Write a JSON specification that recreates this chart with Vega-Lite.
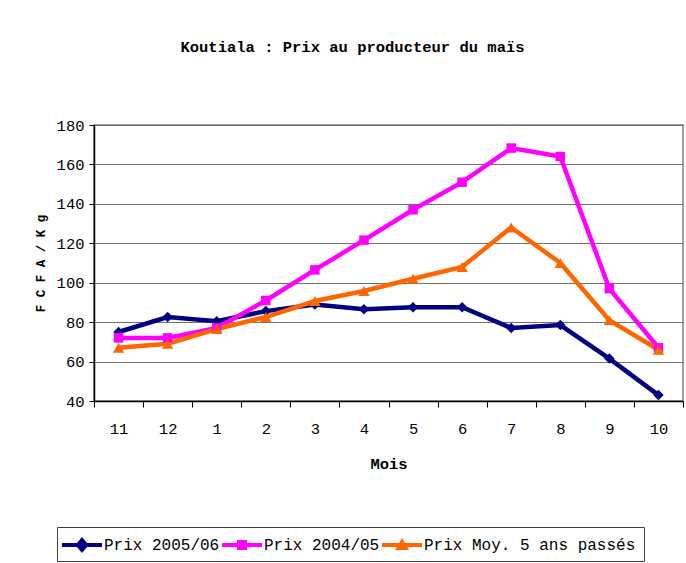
{
  "$schema": "https://vega.github.io/schema/vega-lite/v6.json",
  "width": 589,
  "height": 276,
  "autosize": {"type": "none"},
  "padding": {"left": 94, "top": 125, "right": 3, "bottom": 162},
  "background": "white",
  "title": {
    "text": "Koutiala : Prix au producteur du maïs",
    "font": "Liberation Mono",
    "fontSize": 15.5,
    "fontWeight": "bold",
    "color": "black",
    "anchor": "middle",
    "dx": -36,
    "offset": 63
  },
  "config": {
    "view": {"stroke": "#808080", "strokeWidth": 1.5},
    "axis": {
      "labelFont": "Liberation Mono",
      "labelFontSize": 15.5,
      "labelColor": "black",
      "titleFont": "Liberation Mono",
      "titleFontSize": 15.5,
      "titleFontWeight": "bold",
      "titleColor": "black",
      "domainColor": "black",
      "domainWidth": 1.5,
      "tickColor": "black",
      "tickWidth": 1
    }
  },
  "data": {
    "values": [
      {"mois": "11", "serie": "Prix 2005/06", "prix": 75},
      {"mois": "12", "serie": "Prix 2005/06", "prix": 82.6},
      {"mois": "1", "serie": "Prix 2005/06", "prix": 80.5},
      {"mois": "2", "serie": "Prix 2005/06", "prix": 85.6},
      {"mois": "3", "serie": "Prix 2005/06", "prix": 89},
      {"mois": "4", "serie": "Prix 2005/06", "prix": 86.6},
      {"mois": "5", "serie": "Prix 2005/06", "prix": 87.6},
      {"mois": "6", "serie": "Prix 2005/06", "prix": 87.6},
      {"mois": "7", "serie": "Prix 2005/06", "prix": 77},
      {"mois": "8", "serie": "Prix 2005/06", "prix": 78.5},
      {"mois": "9", "serie": "Prix 2005/06", "prix": 61.5},
      {"mois": "10", "serie": "Prix 2005/06", "prix": 43},
      {"mois": "11", "serie": "Prix 2004/05", "prix": 72},
      {"mois": "12", "serie": "Prix 2004/05", "prix": 72},
      {"mois": "1", "serie": "Prix 2004/05", "prix": 77},
      {"mois": "2", "serie": "Prix 2004/05", "prix": 91},
      {"mois": "3", "serie": "Prix 2004/05", "prix": 106.5},
      {"mois": "4", "serie": "Prix 2004/05", "prix": 121.6},
      {"mois": "5", "serie": "Prix 2004/05", "prix": 137},
      {"mois": "6", "serie": "Prix 2004/05", "prix": 151},
      {"mois": "7", "serie": "Prix 2004/05", "prix": 168.3},
      {"mois": "8", "serie": "Prix 2004/05", "prix": 164},
      {"mois": "9", "serie": "Prix 2004/05", "prix": 97},
      {"mois": "10", "serie": "Prix 2004/05", "prix": 67},
      {"mois": "11", "serie": "Prix Moy. 5 ans passés", "prix": 67},
      {"mois": "12", "serie": "Prix Moy. 5 ans passés", "prix": 69},
      {"mois": "1", "serie": "Prix Moy. 5 ans passés", "prix": 76.5},
      {"mois": "2", "serie": "Prix Moy. 5 ans passés", "prix": 82.6},
      {"mois": "3", "serie": "Prix Moy. 5 ans passés", "prix": 90.7},
      {"mois": "4", "serie": "Prix Moy. 5 ans passés", "prix": 95.8},
      {"mois": "5", "serie": "Prix Moy. 5 ans passés", "prix": 102},
      {"mois": "6", "serie": "Prix Moy. 5 ans passés", "prix": 108},
      {"mois": "7", "serie": "Prix Moy. 5 ans passés", "prix": 128},
      {"mois": "8", "serie": "Prix Moy. 5 ans passés", "prix": 110},
      {"mois": "9", "serie": "Prix Moy. 5 ans passés", "prix": 81},
      {"mois": "10", "serie": "Prix Moy. 5 ans passés", "prix": 66}
    ]
  },
  "encoding": {
    "x": {
      "field": "mois",
      "type": "ordinal",
      "scale": {
        "type": "band",
        "domain": ["11", "12", "1", "2", "3", "4", "5", "6", "7", "8", "9", "10"],
        "paddingInner": 0,
        "paddingOuter": 0
      },
      "axis": {
        "title": "Mois",
        "labelAngle": 0,
        "tickBand": "extent",
        "tickSize": 6,
        "labelPadding": 14,
        "titlePadding": 20,
        "grid": false
      }
    },
    "y": {
      "field": "prix",
      "type": "quantitative",
      "scale": {"domain": [40, 180], "nice": false, "zero": false},
      "axis": {
        "title": "F  C F A / K g",
        "titleFontSize": 12.5,
        "values": [40, 60, 80, 100, 120, 140, 160, 180],
        "tickSize": 5,
        "labelPadding": 5,
        "titlePadding": 9,
        "grid": true,
        "gridColor": "#707070",
        "gridWidth": 1.2
      }
    }
  },
  "layer": [
    {
      "mark": {"type": "line", "strokeWidth": 4.5},
      "encoding": {
        "color": {
          "field": "serie",
          "type": "nominal",
          "scale": {
            "domain": ["Prix 2005/06", "Prix 2004/05", "Prix Moy. 5 ans passés"],
            "range": ["#000080", "#FF00FF", "#FF6600"]
          },
          "legend": {
            "orient": "none",
            "legendX": -37,
            "legendY": 402,
            "direction": "horizontal",
            "title": null,
            "labelFont": "Liberation Mono",
            "labelFontSize": 16,
            "labelColor": "black",
            "symbolOffset": 7,
            "labelOffset": 12,
            "columnPadding": 2,
            "symbolSize": 400,
            "symbolStrokeWidth": 0,
            "strokeColor": "#404040",
            "padding": 8,
            "labelLimit": 400,
            "encode": {
              "symbols": {
                "update": {
                  "fill": {"scale": "color", "field": "value"},
                  "fillOpacity": {"value": 1},
                  "stroke": {"value": "transparent"},
                  "strokeWidth": {"value": 0},
                  "shape": {"signal": "datum.value === 'Prix 2005/06' ? 'M-2,-0.2H-0.5L0,-0.8L0.5,-0.2H2V0.2H0.5L0,0.8L-0.5,0.2H-2Z' : datum.value === 'Prix 2004/05' ? 'M-2,-0.2H-0.5V-0.5H0.5V-0.2H2V0.2H0.5V0.5H-0.5V0.2H-2Z' : 'M-2,-0.2H-0.29L0,-0.7L0.29,-0.2H2V0.2H0.525L0.7,0.5H-0.7L-0.525,0.2H-2Z'"}
                }
              }
            }
          }
        }
      }
    },
    {
      "transform": [{"filter": "datum.serie === 'Prix 2005/06'"}],
      "mark": {"type": "point", "filled": true, "opacity": 1, "shape": "diamond", "size": 110, "color": "#000080"}
    },
    {
      "transform": [{"filter": "datum.serie === 'Prix 2004/05'"}],
      "mark": {"type": "point", "filled": true, "opacity": 1, "shape": "square", "size": 90, "color": "#FF00FF"}
    },
    {
      "transform": [{"filter": "datum.serie === 'Prix Moy. 5 ans passés'"}],
      "mark": {"type": "point", "filled": true, "opacity": 1, "shape": "triangle-up", "size": 130, "color": "#FF6600"}
    }
  ]
}
